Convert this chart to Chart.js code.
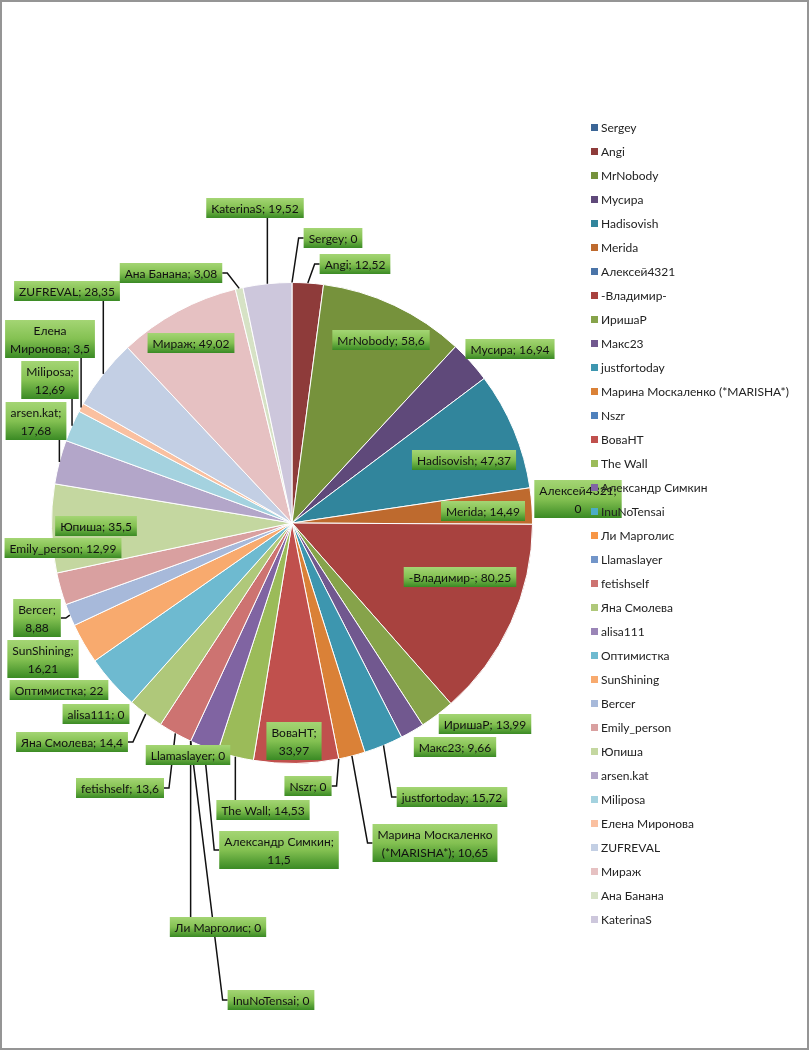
<!DOCTYPE html>
<html lang="ru">
<head>
<meta charset="UTF-8">
<title>Pie</title>
<script src="https://cdn.jsdelivr.net/npm/chart.js@4"></script>
<style>
  body { margin: 0; background: #fff; }
  canvas { display: block; }
</style>
</head>
<body>
<canvas id="pie" width="809" height="1050"></canvas>
<script>
// данные
const names = ['Sergey', 'Angi', 'MrNobody', 'Мусира', 'Hadisovish', 'Merida', 'Алексей4321', '-Владимир-',
  'ИришаР', 'Макс23', 'justfortoday', 'Марина Москаленко (*MARISHA*)', 'Nszr', 'ВоваНТ', 'The Wall',
  'Александр Симкин', 'InuNoTensai', 'Ли Марголис', 'Llamaslayer', 'fetishself', 'Яна Смолева', 'alisa111',
  'Оптимистка', 'SunShining', 'Bercer', 'Emily_person', 'Юпиша', 'arsen.kat', 'Miliposa', 'Елена Миронова',
  'ZUFREVAL', 'Мираж', 'Ана Банана', 'KaterinaS'];
const values = [0, 12.52, 58.6, 16.94, 47.37, 14.49, 0, 80.25,
  13.99, 9.66, 15.72, 10.65, 0, 33.97, 14.53,
  11.5, 0, 0, 0, 13.6, 14.4, 0,
  22, 16.21, 8.88, 12.99, 35.5, 17.68, 12.69, 3.5,
  28.35, 49.02, 3.08, 19.52];
const colors = ['#3b6596', '#8e3b3a', '#76923c', '#5f497a', '#31859c', '#be6a2e',
  '#4a74a8', '#a8423f', '#86a34a', '#71588f', '#3d96af', '#da8137',
  '#4f81bd', '#c0504d', '#9bbb59', '#8064a2', '#4bacc6', '#f79646',
  '#7295c9', '#cd7371', '#afc87a', '#9a85b7', '#6ebad0', '#f8aa6e',
  '#a7b9da', '#d9a0a0', '#c4d7a0', '#b3a6c9', '#a4d2df', '#fac0a0',
  '#c3cfe4', '#e6c1c2', '#d6e2c5', '#cdc7dc'];

// расположение подписей: смещение центра от центра круга, перенос (слов в 1-й строке), выноска
const labelDx = [41, 63, 89, 218, 172, 191, 286, 168, 193, 163, 160, 143, 16, 2, -29, -13, -21, -74, -104, -172,
  -220, -196, -233, -249, -255, -229, -196, -256, -242, -242, -225, -101, -121, -37];
const labelDy = [-285, -259, -183, -174, -63, -12, -24, 54, 201, 224, 274, 320, 263, 218, 287, 327, 477, 404, 232, 265,
  219, 191, 167, 136, 95, 25, 3, -102, -143, -184, -232, -180, -250, -315];
const labelWrap = [0, 0, 0, 0, 0, 0, 1, 0, 0, 0, 0, 2, 0, 1, 0, 2, 0, 0, 0, 0,
  0, 0, 0, 1, 1, 0, 0, 1, 1, 1, 0, 0, 0, 0];
const labelLeader = [1, 1, 0, 0, 0, 0, 0, 0, 0, 0, 1, 1, 1, 0, 1, 1, 1, 1, 0, 1,
  1, 0, 0, 0, 1, 0, 0, 1, 1, 1, 1, 0, 1, 1];

const FONT = '12px Lato';

function labelLines(i) {
  const words = (names[i] + '; ' + String(values[i]).replace('.', ',')).split(' ');
  if (!labelWrap[i]) return [words.join(' ')];
  return [words.slice(0, labelWrap[i]).join(' '), words.slice(labelWrap[i]).join(' ')];
}

function drawLeader(ctx, ax, ay, b) {
  ctx.beginPath();
  if (ax >= b.l && ax <= b.r) {
    ctx.moveTo(ax, ay);
    ctx.lineTo(ax, ay > b.b ? b.b : b.t);
  } else {
    const sx = ax < b.l ? b.l : b.r;
    const stub = ax < b.l ? sx - 5 : sx + 5;
    const my = (b.t + b.b) / 2;
    ctx.moveTo(ax, ay);
    ctx.lineTo(stub, my);
    ctx.lineTo(sx, my);
  }
  ctx.stroke();
}

const labelsPlugin = {
  id: 'excelLabels',
  beforeDraw(chart) {
    const ctx = chart.ctx;
    ctx.save();
    ctx.fillStyle = '#fff';
    ctx.fillRect(0, 0, chart.width, chart.height);
    ctx.strokeStyle = '#959595';
    ctx.lineWidth = 2;
    ctx.strokeRect(1, 1, chart.width - 2, chart.height - 2);
    ctx.restore();
  },
  afterDraw(chart) {
    const ctx = chart.ctx;
    const arcs = chart.getDatasetMeta(0).data;
    ctx.save();
    ctx.font = FONT;
    const boxes = arcs.map((arc, i) => {
      const p = arc.getProps(['x', 'y', 'startAngle', 'endAngle', 'outerRadius'], true);
      const mid = (p.startAngle + p.endAngle) / 2;
      const lines = labelLines(i);
      const w = Math.max(...lines.map(t => ctx.measureText(t).width)) + 10;
      const h = lines.length * 18 + 2;
      const cx = p.x + labelDx[i], cy = p.y + labelDy[i];
      return {
        lines, cx, cy,
        l: cx - w / 2, r: cx + w / 2, t: cy - h / 2, b: cy + h / 2,
        ax: p.x + p.outerRadius * Math.cos(mid), ay: p.y + p.outerRadius * Math.sin(mid)
      };
    });
    // выноски
    ctx.strokeStyle = '#111';
    ctx.lineWidth = 1.5;
    boxes.forEach((b, i) => { if (labelLeader[i]) drawLeader(ctx, b.ax, b.ay, b); });
    // подписи
    ctx.textAlign = 'center';
    ctx.textBaseline = 'middle';
    boxes.forEach(b => {
      const g = ctx.createLinearGradient(0, b.t, 0, b.b);
      g.addColorStop(0, '#a4d574');
      g.addColorStop(0.5, '#84c152');
      g.addColorStop(1, '#3a8a24');
      ctx.fillStyle = g;
      ctx.fillRect(b.l, b.t, b.r - b.l, b.b - b.t);
      ctx.fillStyle = '#111';
      const y0 = b.cy - (b.lines.length - 1) * 9;
      b.lines.forEach((t, k) => ctx.fillText(t, b.cx, y0 + k * 18 + 1));
    });
    // легенда
    ctx.textAlign = 'left';
    names.forEach((n, i) => {
      const y = 128 + i * 24;
      ctx.fillStyle = colors[i];
      ctx.fillRect(591, y - 4, 7, 7);
      ctx.fillStyle = '#222';
      ctx.fillText(n, 601, y);
    });
    ctx.restore();
  }
};

new Chart(document.getElementById('pie'), {
  type: 'pie',
  data: {
    labels: names,
    datasets: [{
      data: values,
      backgroundColor: colors,
      borderColor: '#fff',
      borderWidth: 1
    }]
  },
  options: {
    responsive: false,
    animation: false,
    layout: { padding: { left: 51, right: 276, top: 282, bottom: 286 } },
    plugins: {
      legend: { display: false },
      tooltip: { enabled: false }
    }
  },
  plugins: [labelsPlugin]
});
</script>
</body>
</html>
